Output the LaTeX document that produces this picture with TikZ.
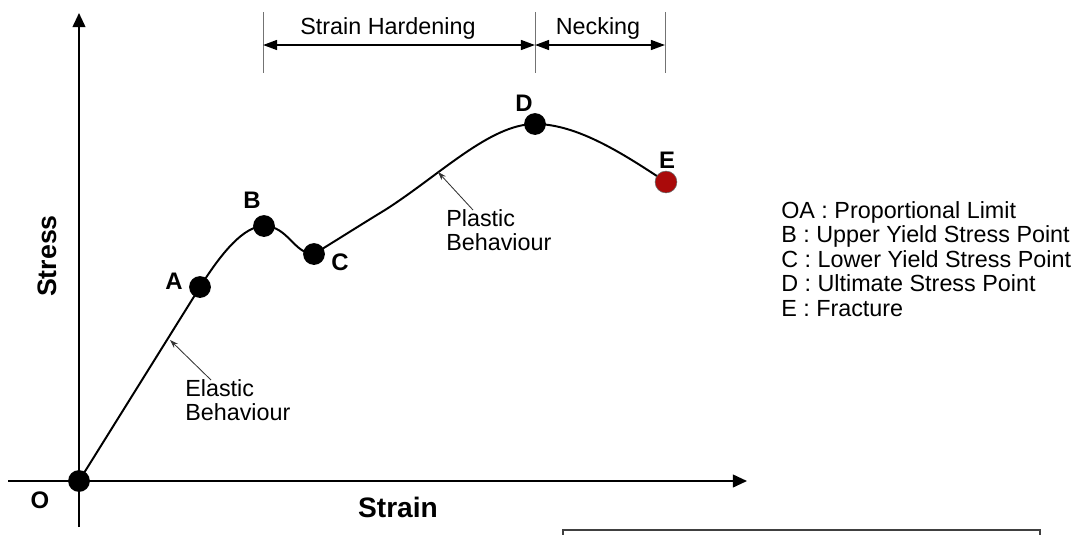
\documentclass[tikz,border=0pt]{standalone}
\usepackage{fontspec}
\setmainfont{Liberation Sans}
\usetikzlibrary{arrows.meta}

\tikzset{
 pt/.style={circle,fill=black,inner sep=0pt,minimum size=15.5pt},
 lbl/.style={font=\fontsize{17}{17}\selectfont\bfseries},
 txt/.style={font=\fontsize{16.6}{17.4}\selectfont,align=left},
}

\begin{document}
\begin{tikzpicture}[x=0.025cm,y=-0.025cm]
\useasboundingbox (0,0) rectangle (1079,534);

% axes
\coordinate (xs) at (8,481);
\coordinate (xe) at (747,481);
\coordinate (ys) at (79,527);
\coordinate (ye) at (79,13);
\draw[line width=1.4pt,-{Triangle[length=10pt,width=9pt]}] (xs)--(xe);
\draw[line width=1.4pt,-{Triangle[length=10pt,width=9pt]}] (ys)--(ye);

% curve
\draw[line width=1.4pt] (79,481)--(200,287)
 .. controls (222,252) and (244,226) .. (264,226)
 .. controls (288,226) and (294,254) .. (314,254)
 .. controls (340,238) and (362,224) .. (385,210)
 .. controls (440,175) and (490,124) .. (535,124)
 .. controls (578,124) and (625,155) .. (666,182);

% points
\node[pt] (O) at (79,481) {};
\node[pt] (A) at (200,287) {};
\node[pt] (B) at (264,226) {};
\node[pt] (C) at (314,254) {};
\node[pt] (D) at (535,124) {};
\node[pt,fill={rgb,255:red,170;green,10;blue,10},draw=black!60,line width=0.4pt] (E) at (666,182) {};

\node[lbl] (Ol) at (40,500) {O};
\node[lbl] (Al) at (174,281) {A};
\node[lbl] (Bl) at (252,200) {B};
\node[lbl] (Cl) at (340,262) {C};
\node[lbl] (Dl) at (524,103) {D};
\node[lbl] (El) at (667,160) {E};

% axis titles
\node[font=\fontsize{20}{20}\selectfont\bfseries] (strain) at (398,507) {Strain};
\node[font=\fontsize{19}{19}\selectfont\bfseries,rotate=90] (stress) at (47,256) {Stress};

% behaviour notes
\node[txt,anchor=north west,inner sep=0pt] (el) at (185,379) {Elastic\\Behaviour};
\node[txt,anchor=north west,inner sep=0pt] (pl) at (446,209) {Plastic\\Behaviour};
\coordinate (elt) at (170,340);
\coordinate (plt) at (438,172);
\draw[black!80,semithick,-{Stealth[length=6pt,width=4pt]}] (211,380)--(elt);
\draw[black!80,semithick,-{Stealth[length=6pt,width=4pt]}] (473,210)--(plt);

% regions at top
\coordinate (t1) at (263,12);
\coordinate (t2) at (535,12);
\coordinate (t3) at (665,12);
\coordinate (b1) at (263,73);
\coordinate (b2) at (535,73);
\coordinate (b3) at (665,73);
\draw[black!55,thin] (t1)--(b1);
\draw[black!55,thin] (t2)--(b2);
\draw[black!55,thin] (t3)--(b3);
\coordinate (h1) at (263,45);
\coordinate (h2) at (535,45);
\coordinate (h3) at (665,45);
\draw[line width=1.3pt,{Triangle[length=10pt,width=7pt]}-{Triangle[length=10pt,width=7pt]}] (h1)--(h2);
\draw[line width=1.3pt,{Triangle[length=10pt,width=7pt]}-{Triangle[length=10pt,width=7pt]}] (h2)--(h3);
\node[txt] (sh) at (388,28) {Strain Hardening};
\node[txt] (nk) at (598,28) {Necking};

% legend
\node[txt,anchor=north west,inner sep=0pt] (leg) at (781,201)
 {OA : Proportional Limit\\B : Upper Yield Stress Point\\C : Lower Yield Stress Point\\D : Ultimate Stress Point\\E : Fracture};

% box at bottom
\draw[black!75,line width=0.8pt] (563,540)--(563,530)--(1040,530)--(1040,540);

\end{tikzpicture}
\end{document}
